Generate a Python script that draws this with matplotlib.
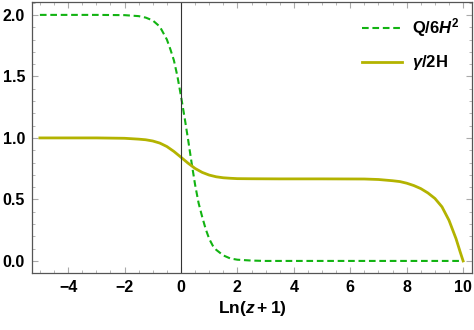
import numpy as np
import matplotlib
matplotlib.use("Agg")
from matplotlib import pyplot as plt
from matplotlib.ticker import MultipleLocator

plt.rcParams['font.family'] = ['Liberation Sans', 'DejaVu Sans']
plt.rcParams['font.weight'] = 'bold'
plt.rcParams['mathtext.fontset'] = 'custom'
plt.rcParams['mathtext.rm'] = 'Liberation Sans:bold'
plt.rcParams['mathtext.it'] = 'Liberation Sans:italic:bold'
plt.rcParams['mathtext.bf'] = 'Liberation Sans:bold'

# Q/6H^2 (dashed green)
xq = [-5.0, -3.0, -2.0, -1.5, -1.25, -1.0, -0.75, -0.5, -0.375, -0.25, -0.125, 0.0,
      0.125, 0.25, 0.375, 0.5, 0.625, 0.75, 0.875, 1.0, 1.125, 1.25, 1.5, 1.75,
      2.0, 2.5, 3.0, 5.0, 7.0, 10.0]
yq = [2.0, 2.0, 1.998, 1.99, 1.978, 1.955, 1.905, 1.80, 1.72, 1.63, 1.50, 1.34,
      1.17, 0.99, 0.80, 0.62, 0.47, 0.36, 0.26, 0.18, 0.125, 0.09, 0.045, 0.02,
      0.01, 0.003, 0.0, 0.0, 0.0, 0.0]

# gamma/2H (solid olive)
xg = [-5.0, -3.0, -2.0, -1.5, -1.25, -1.0, -0.75, -0.5, -0.25, 0.0, 0.25, 0.5,
      0.75, 1.0, 1.25, 1.5, 1.75, 2.0, 2.5, 3.5, 5.0, 6.5, 7.0, 7.5, 7.76, 8.0,
      8.25, 8.5, 8.75, 9.0, 9.25, 9.5, 9.75, 9.9, 10.0]
yg = [1.0, 1.0, 0.997, 0.99, 0.985, 0.975, 0.958, 0.93, 0.89, 0.843, 0.795, 0.752,
      0.72, 0.698, 0.684, 0.676, 0.672, 0.669, 0.668, 0.667, 0.667, 0.666, 0.662, 0.652,
      0.645, 0.632, 0.613, 0.588, 0.553, 0.508, 0.44, 0.33, 0.18, 0.07, 0.0]

xticks = [-4, -2, 0, 2, 4, 6, 8, 10]
xticklabels = ['\u22124', '\u22122', '0', '2', '4', '6', '8', '10']
yticks = [0.0, 0.5, 1.0, 1.5, 2.0]
yticklabels = ['0.0', '0.5', '1.0', '1.5', '2.0']

fig = plt.figure(figsize=(4.74, 3.30), dpi=100)
ax = fig.add_axes([0.0675, 0.172, 0.928, 0.822])

green = '#12B312'
olive = '#B3B300'
ax.plot(xq, yq, '--', color=green, lw=1.5, dashes=(3.2, 1.8), label=r'Q/6$H^2$')
ax.plot(xg, yg, '-', color=olive, lw=2.0, label=r'$\gamma$/2H')
ax.axvline(0, color='#333333', lw=0.8)

ax.set_xlim(-5.28, 10.31)
ax.set_ylim(-0.1, 2.105)
ax.set_xticks(xticks, xticklabels, fontsize=11.5, fontweight='heavy')
ax.set_yticks(yticks, yticklabels, fontsize=11.5, fontweight='heavy')
ax.xaxis.set_minor_locator(MultipleLocator(0.5))
ax.yaxis.set_minor_locator(MultipleLocator(0.1))
ax.tick_params(which='both', direction='in', top=True, right=True, color='#AAAAAA', pad=5)
ax.tick_params(which='major', length=4, width=0.8)
ax.tick_params(which='minor', length=2.5, width=0.6)
for s in ax.spines.values():
    s.set_color('#555555')
    s.set_linewidth(0.9)

ax.set_xlabel(r'Ln($z+1$)', fontsize=12.5, fontweight='bold', labelpad=3)
ax.legend(loc='upper right', frameon=False, prop={'size': 12, 'weight': 'bold'},
          handlelength=2.4, handletextpad=0.6, labelspacing=0.85,
          bbox_to_anchor=(1.0, 0.99), borderaxespad=0.3)

fig.savefig('out.png', dpi=100)
